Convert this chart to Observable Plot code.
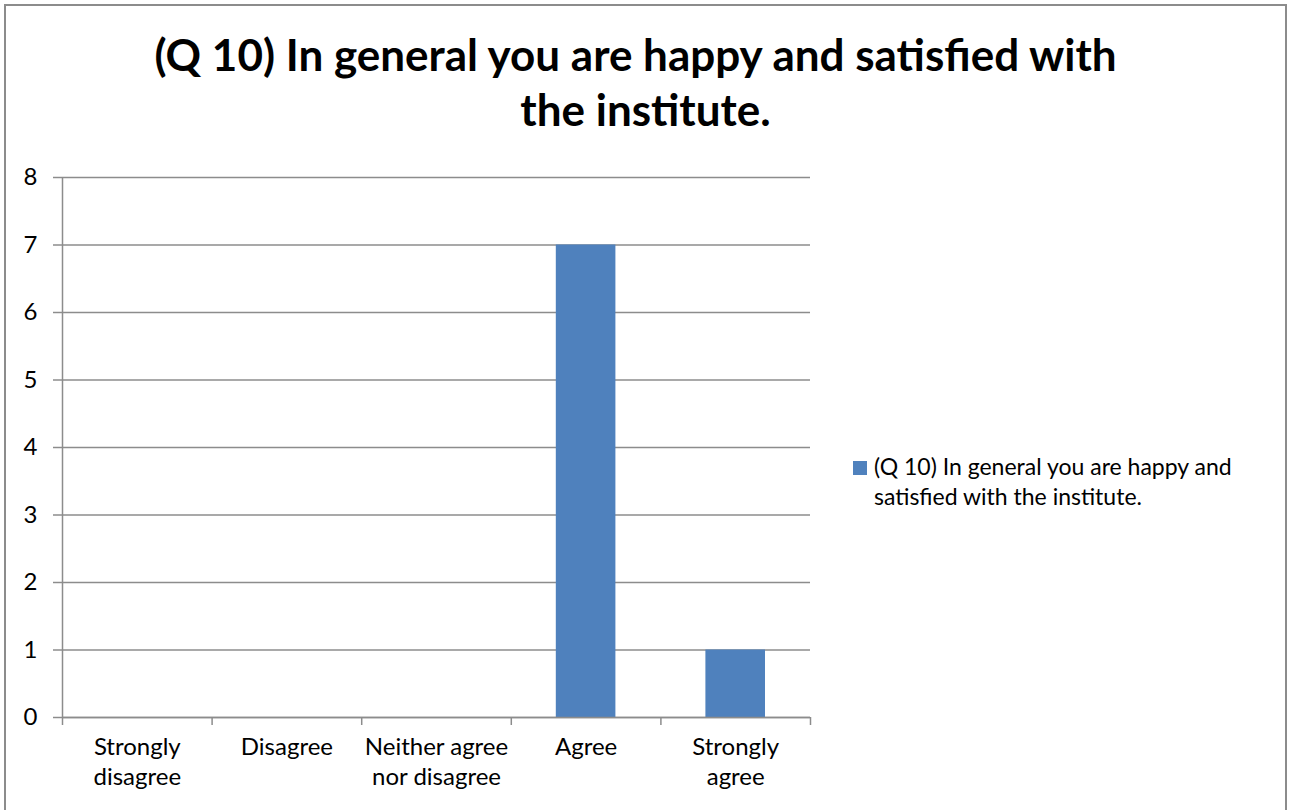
<!DOCTYPE html>
<html>
<head>
<meta charset="utf-8">
<script src="https://cdn.jsdelivr.net/npm/d3@7"></script>
<script src="https://cdn.jsdelivr.net/npm/@observablehq/plot@0.6"></script>
<style>
  html, body { margin: 0; padding: 0; background: #fff; }
  #wrap { position: relative; width: 1291px; height: 810px; overflow: hidden; font-family: Lato, "Open Sans", sans-serif; }
  #frame { position: absolute; left: 4px; top: 4px; width: 1283px; height: 820px; border: 2px solid #8c8c8c; box-sizing: border-box; }
  #title { position: absolute; left: 0; width: 1291px; top: 27px; text-align: center; font-weight: 700; font-size: 44px; line-height: 55px; color: #000; }
  #title .l1 { position: relative; left: -10px; }
  #legend { position: absolute; left: 853px; top: 451px; font-size: 23px; line-height: 30px; color: #000; }
  #legend .sw { display: inline-block; width: 14px; height: 14px; background: #4f81bd; margin-right: 7px; vertical-align: 0px; }
  #legend .l2 { padding-left: 21px; }
  #chart { position: absolute; left: 0; top: 0; }
</style>
</head>
<body>
<div id="wrap">
  <div id="chart"></div>
  <div id="frame"></div>
  <div id="title"><span class="l1">(Q 10) In general you are happy and satisfied with</span><br>the institute.</div>
  <div id="legend"><div><span class="sw"></span>(Q 10) In general you are happy and</div><div class="l2">satisfied with the institute.</div></div>
</div>
<script>
const categories = ["Strongly disagree", "Disagree", "Neither agree nor disagree", "Agree", "Strongly agree"];
const categoryLines = [["Strongly", "disagree"], ["Disagree"], ["Neither agree", "nor disagree"], ["Agree"], ["Strongly", "agree"]];
const values = [0, 0, 0, 7, 1];
const yTicks = [0, 1, 2, 3, 4, 5, 6, 7, 8];
const seriesName = "(Q 10) In general you are happy and satisfied with the institute.";

const rows = categories.map((c, i) => ({category: c, i, value: values[i], label: categoryLines[i].join("\n")}));
const boundaries = d3.range(categories.length + 1);

const plot = Plot.plot({
  width: 1291,
  height: 810,
  marginLeft: 62,
  marginRight: 481,
  marginTop: 177,
  marginBottom: 93,
  style: {fontFamily: "Lato, 'Open Sans', sans-serif", fontSize: "24px", color: "#000", background: "transparent"},
  x: {type: "linear", domain: [0, categories.length], axis: null},
  y: {type: "linear", domain: [0, 8], axis: null},
  marks: [
    Plot.ruleY(yTicks, {y: d => d, stroke: "#8c8c8c", strokeWidth: 1.5}),
    Plot.rectY(rows.filter(d => d.value > 0), {x1: "i", x2: d => d.i + 1, y: "value", fill: "#4f81bd", insetLeft: 45, insetRight: 45}),
    Plot.ruleX([0], {stroke: "#8c8c8c", strokeWidth: 1.5}),
    Plot.ruleY([0], {stroke: "#8c8c8c", strokeWidth: 1.5}),
    Plot.ruleY(yTicks, {y: d => d, x1: 0, x2: 0, insetLeft: -9, stroke: "#8c8c8c", strokeWidth: 1.5}),
    Plot.text(yTicks, {y: d => d, x: 0, text: d => String(d), textAnchor: "end", dx: -25, fill: "#000", fontSize: 24}),
    Plot.ruleX(boundaries, {x: d => d, y1: 0, y2: 0, insetBottom: -8, stroke: "#8c8c8c", strokeWidth: 1.5}),
    Plot.text(rows, {x: d => d.i + 0.5, y: 0, text: "label", lineHeight: 1.25, lineAnchor: "top", dy: 16, fill: "#000", fontSize: 24})
  ]
});
document.getElementById("chart").appendChild(plot);
</script>
</body>
</html>
